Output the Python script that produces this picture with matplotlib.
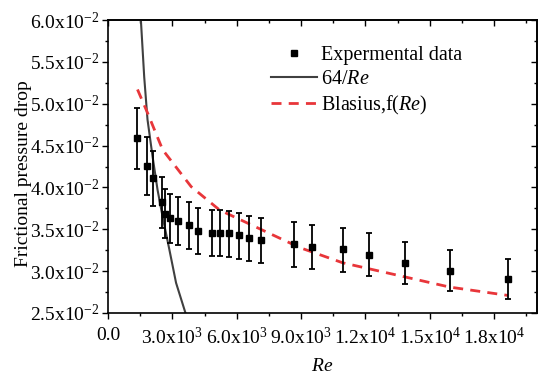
import numpy as np
import matplotlib
matplotlib.use('Agg')
import matplotlib.pyplot as plt
from matplotlib.lines import Line2D
from matplotlib.ticker import MultipleLocator, FuncFormatter

plt.rcParams['font.family'] = ['Liberation Serif', 'DejaVu Serif']
plt.rcParams['mathtext.fontset'] = 'custom'
plt.rcParams['mathtext.rm'] = 'Liberation Serif'
plt.rcParams['mathtext.it'] = 'Liberation Serif:italic'

# experimental data
re_exp = [1375, 1797, 2078, 2516, 2641, 2875, 3281, 3781, 4188, 4844, 5219,
          5625, 6094, 6594, 7156, 8688, 9500, 10938, 12172, 13859, 15922, 18641]
f_exp = [0.0459, 0.0426, 0.0411, 0.0382, 0.0368, 0.0363, 0.0360, 0.0355, 0.0348,
         0.0346, 0.0346, 0.0345, 0.0343, 0.0339, 0.0337, 0.0332, 0.0329, 0.0326,
         0.0319, 0.0310, 0.0300, 0.0291]
f_hi = [0.0495, 0.0460, 0.0444, 0.0412, 0.0398, 0.0392, 0.0389, 0.0382, 0.0376,
        0.0373, 0.0373, 0.0372, 0.0370, 0.0366, 0.0364, 0.0359, 0.0355, 0.0351,
        0.0345, 0.0335, 0.0325, 0.0314]
f_lo = [0.0422, 0.0391, 0.0378, 0.0351, 0.0339, 0.0334, 0.0331, 0.0326, 0.0320,
        0.0318, 0.0318, 0.0317, 0.0315, 0.0312, 0.0310, 0.0305, 0.0303, 0.0299,
        0.0294, 0.0285, 0.0276, 0.0267]

# 64/Re curve
re_lam = [1500, 1533, 1688, 1842, 2077, 2311, 2545, 2859, 3173, 3563, 3650]
f_lam = [0.0615, 0.0600, 0.0532, 0.0481, 0.0437, 0.0397, 0.0365, 0.0326, 0.0286, 0.0254, 0.0247]

# Blasius curve
re_bla = [1375, 1844, 2547, 3875, 5203, 8953, 10938, 13859, 15922, 18641]
f_bla = [0.0517, 0.0489, 0.0445, 0.0401, 0.0373, 0.0328, 0.0310, 0.0293, 0.0281, 0.0271]

err_lo = np.array(f_exp) - np.array(f_lo)
err_hi = np.array(f_hi) - np.array(f_exp)

fig = plt.figure(figsize=(5.5, 3.84), dpi=100)
ax = fig.add_axes([108 / 550, 1 - 313 / 384, 429 / 550, 293 / 384])

ax.errorbar(re_exp, f_exp, yerr=[err_lo, err_hi], fmt='s', color='black',
            ms=3.8, elinewidth=1.3, capsize=2.5, capthick=1.3, zorder=3)
lam, = ax.plot(re_lam, f_lam, color='#404040', lw=1.5)
bla, = ax.plot(re_bla, f_bla, color='#e8363a', lw=2, dashes=(3.6, 2.6))

ax.set_xlim(0, 20000)
ax.set_ylim(0.025, 0.06)

def xfmt(v, pos):
    if abs(v) < 1e-9:
        return '0.0'
    if v < 0:
        return ''
    e = int(np.floor(np.log10(v) + 1e-9))
    return f'{v / 10**e:.1f}x10$^{{{e}}}$'

def yfmt(v, pos):
    return f'{v * 100:.1f}x10$^{{-2}}$'

ax.xaxis.set_major_locator(MultipleLocator(3000))
ax.xaxis.set_minor_locator(MultipleLocator(1500))
ax.yaxis.set_major_locator(MultipleLocator(0.005))
ax.yaxis.set_minor_locator(MultipleLocator(0.0025))
ax.xaxis.set_major_formatter(FuncFormatter(xfmt))
ax.yaxis.set_major_formatter(FuncFormatter(yfmt))
ax.tick_params(which='major', direction='out', length=4, width=1, labelsize=14)
ax.tick_params(axis='x', which='major', pad=6)
ax.tick_params(axis='y', which='major', pad=2)
ax.tick_params(which='minor', direction='out', length=2.5, width=1)

# mirror ticks pointing inward on top and right
top = ax.secondary_xaxis('top')
top.xaxis.set_major_locator(MultipleLocator(3000))
top.xaxis.set_minor_locator(MultipleLocator(1500))
top.tick_params(which='major', direction='in', length=4, width=1, labeltop=False)
top.tick_params(which='minor', direction='in', length=2.5, width=1)
right = ax.secondary_yaxis('right')
right.yaxis.set_major_locator(MultipleLocator(0.005))
right.yaxis.set_minor_locator(MultipleLocator(0.0025))
right.tick_params(which='major', direction='in', length=4, width=1, labelright=False)
right.tick_params(which='minor', direction='in', length=2.5, width=1)

for s in list(ax.spines.values()) + [top.spines['top'], right.spines['right']]:
    s.set_linewidth(1.2)

ax.set_xlabel('$Re$', fontsize=14, labelpad=7)
ax.set_ylabel('Frictional pressure drop', fontsize=14)
ax.yaxis.set_label_coords(-0.178, 0.475)

exp_handle = Line2D([], [], marker='s', ms=3.8, color='black', ls='none')
ax.legend([exp_handle, lam, bla], ['Expermental data', '64/$Re$', 'Blasius,f($Re$)'],
          loc='upper right', bbox_to_anchor=(0.844, 0.94), frameon=False, fontsize=14.5,
          handlelength=2.3, handletextpad=0.2, labelspacing=0.25, borderaxespad=0)

fig.savefig('out.png', dpi=100)
